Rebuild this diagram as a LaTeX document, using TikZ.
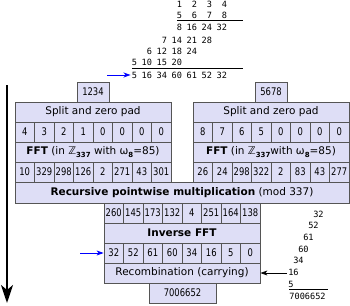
\documentclass[tikz,border=0pt]{standalone}
\usepackage{fontspec}
\usetikzlibrary{arrows.meta}
\setmainfont{DejaVu Sans}
\newfontfamily\cellfont{DejaVu Sans}[FakeStretch=0.8]
\newfontfamily\monofont{DejaVu Sans Mono}
\definecolor{boxfill}{RGB}{222,222,246}
\definecolor{boxline}{RGB}{85,85,85}
\newcommand\zsub[1]{\raisebox{-.4ex}{\fontsize{7}{7}\selectfont\bfseries #1}}
\tikzset{
  cell/.style={draw=boxline,fill=boxfill,line width=.8pt,minimum width=19.5pt,
    minimum height=20pt,inner sep=0pt,font=\cellfont\fontsize{10.5}{11}\selectfont},
  bar/.style={cell,minimum width=156pt,font=\fontsize{10.5}{12}\selectfont},
  num/.style={inner sep=0pt,anchor=east,font=\monofont\fontsize{8.6}{9}\selectfont},
}
\begin{document}
\begin{tikzpicture}[x=1pt,y=-1pt,>={Stealth[length=7pt,width=5pt,inset=2pt]},line width=.8pt]
  \useasboundingbox (0,0) rectangle (350,305);
  % schoolbook product on top
  \foreach \r/\y/\c/\vals in {1/4.5/3/{1,2,3,4},2/15.7/3/{5,6,7,8},
      3/27.3/3/{8,16,24,32},4/40/2/{7,14,21,28},5/51.5/1/{6,12,18,24},
      6/62.7/0/{5,10,15,20},7/75/0/{5,16,34,60,61,52,32}} {
    \foreach \v [count=\k] in \vals {
      \node[num] (t\r-\k) at (137.5+15*\c+15*\k-15,\y) {\v};
    }
  }
  \draw[line width=.6pt] (177,20.7)--(243,20.7);
  \draw[line width=.6pt] (132,68)--(243,68);
  \coordinate (topin) at (107,75);
  \draw[->,blue] (topin)--([xshift=-1pt]t7-1.west);
  % time axis
  \coordinate (axtop) at (7,85);
  \coordinate (axbot) at (7,303);
  \draw[-{Stealth[length=18pt,width=12pt,inset=5pt]},line width=2pt] (axtop)--(axbot);
  % left operand
  \node[cell,minimum width=32pt] (opa) at (93,92) {1234};
  \node[bar] (splita) at (93,112) {Split and zero pad};
  \foreach \v [count=\i] in {4,3,2,1,0,0,0,0}
    \node[cell] (da\i) at (5.25+19.5*\i,132) {\v};
  \node[bar] (ffta) at (93,152) {\textbf{FFT} (in ℤ\zsub{337} with ω\zsub{8}=85)};
  \foreach \v [count=\i] in {10,329,298,126,2,271,43,301}
    \node[cell] (fa\i) at (5.25+19.5*\i,172) {\v};
  % right operand
  \node[cell,minimum width=32pt] (opb) at (271,92) {5678};
  \node[bar] (splitb) at (271,112) {Split and zero pad};
  \foreach \v [count=\i] in {8,7,6,5,0,0,0,0}
    \node[cell] (db\i) at (183.25+19.5*\i,132) {\v};
  \node[bar] (fftb) at (271,152) {\textbf{FFT} (in ℤ\zsub{337}with ω\zsub{8}=85)};
  \foreach \v [count=\i] in {26,24,298,322,2,83,43,277}
    \node[cell] (fb\i) at (183.25+19.5*\i,172) {\v};
  % pointwise product and back
  \node[bar,minimum width=334pt,minimum height=21pt] (rec) at (182,192.5)
    {\textbf{Recursive pointwise multiplication} (mod 337)};
  \foreach \v [count=\i] in {260,145,173,132,4,251,164,138}
    \node[cell] (pv\i) at (94.25+19.5*\i,213) {\v};
  \node[bar] (ifft) at (182,233) {\textbf{Inverse FFT}};
  \foreach \v [count=\i] in {32,52,61,60,34,16,5,0}
    \node[cell] (cv\i) at (94.25+19.5*\i,253) {\v};
  \node[bar] (carry) at (182,273) {Recombination (carrying)};
  \node[cell,minimum width=67pt] (res) at (182.5,293) {7006652};
  \coordinate (botin) at (80,253);
  \draw[->,blue] (botin)--(cv1.west);
  % carrying on the right
  \foreach \v [count=\k] in {32,52,61,60,34,16,5}
    \node[num] (s\k) at (329-5*\k,202.3+11.7*\k) {\v};
  \draw[line width=.6pt] (289,289.5)--(328,289.5);
  \node[num,anchor=west] (sum) at (289,296.5) {7006652};
  \coordinate (carryin) at (287,273);
  \draw[->] (carryin)--(carry.east);
\end{tikzpicture}
\end{document}
